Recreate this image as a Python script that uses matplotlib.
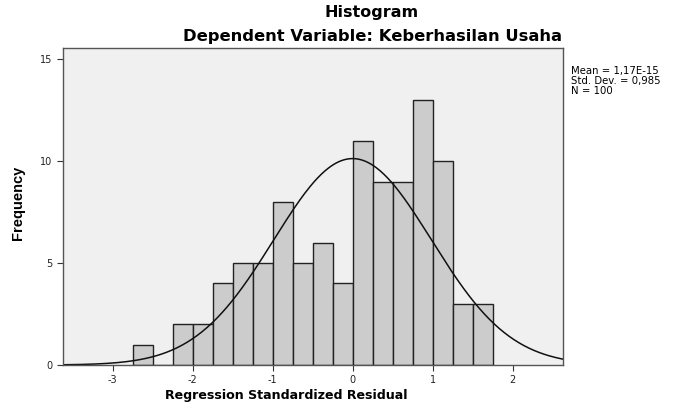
import numpy as np
import matplotlib
matplotlib.use("Agg")
import matplotlib.pyplot as plt

# histogram counts (bin width 0.25)
bin_edges = [-2.75, -2.5, -2.25, -2.0, -1.75, -1.5, -1.25, -1.0, -0.75, -0.5,
             -0.25, 0.0, 0.25, 0.5, 0.75, 1.0, 1.25, 1.5, 1.75]
counts = [1, 0, 2, 2, 4, 5, 5, 8, 5, 6, 4, 11, 9, 9, 13, 10, 3, 3]
mean_val = 1.17e-15
std_val = 0.985
n_obs = 100
x_ticks = [-3, -2, -1, 0, 1, 2]
y_ticks = [0, 5, 10, 15]

fig = plt.figure(figsize=(6.74, 4.12), dpi=100)
ax = fig.add_axes([63 / 674, 1 - 365 / 412, 500 / 674, 317 / 412])
ax.set_facecolor("#f0f0f0")

lefts = bin_edges[:-1]
widths = np.diff(bin_edges)
ax.bar(lefts, counts, width=widths, align="edge", color="#cccccc",
       edgecolor="#222222", linewidth=1.0)

# normal curve scaled to counts
xs = np.linspace(-3.62, 2.63, 400)
bw = 0.25
ys = n_obs * bw / (std_val * np.sqrt(2 * np.pi)) * np.exp(-0.5 * ((xs - mean_val) / std_val) ** 2)
ax.plot(xs, ys, color="#111111", linewidth=1.1)

ax.set_xlim(-3.62, 2.63)
ax.set_ylim(0, 15.55)
ax.set_xticks(x_ticks)
ax.set_yticks(y_ticks)
ax.set_xticklabels([str(t) for t in x_ticks])
ax.tick_params(labelsize=7, length=4, color="#333333", labelcolor="#222222")
for sp in ax.spines.values():
    sp.set_color("#555555")
    sp.set_linewidth(1.0)

fig.text(372 / 674, 1 - 13 / 412, "Histogram", ha="center", va="center",
         fontsize=11.5, fontweight="bold", family="DejaVu Sans")
fig.text(373 / 674, 1 - 37 / 412, "Dependent Variable: Keberhasilan Usaha", ha="center",
         va="center", fontsize=11.8, fontweight="bold", family="DejaVu Sans")
fig.text(286 / 674, 1 - 396 / 412, "Regression Standardized Residual", ha="center",
         va="center", fontsize=9.1, fontweight="bold", family="DejaVu Sans")
fig.text(18 / 674, 1 - 203 / 412, "Frequency", ha="center", va="center", rotation=90,
         fontsize=10.5, fontweight="bold", family="Liberation Sans")

stats = "Mean = 1,17E-15\nStd. Dev. = 0,985\nN = 100"
fig.text(571 / 674, 1 - 66 / 412, stats, ha="left", va="top", fontsize=7.3,
         linespacing=1.0, family="DejaVu Sans")

fig.savefig("out.png", dpi=100)
